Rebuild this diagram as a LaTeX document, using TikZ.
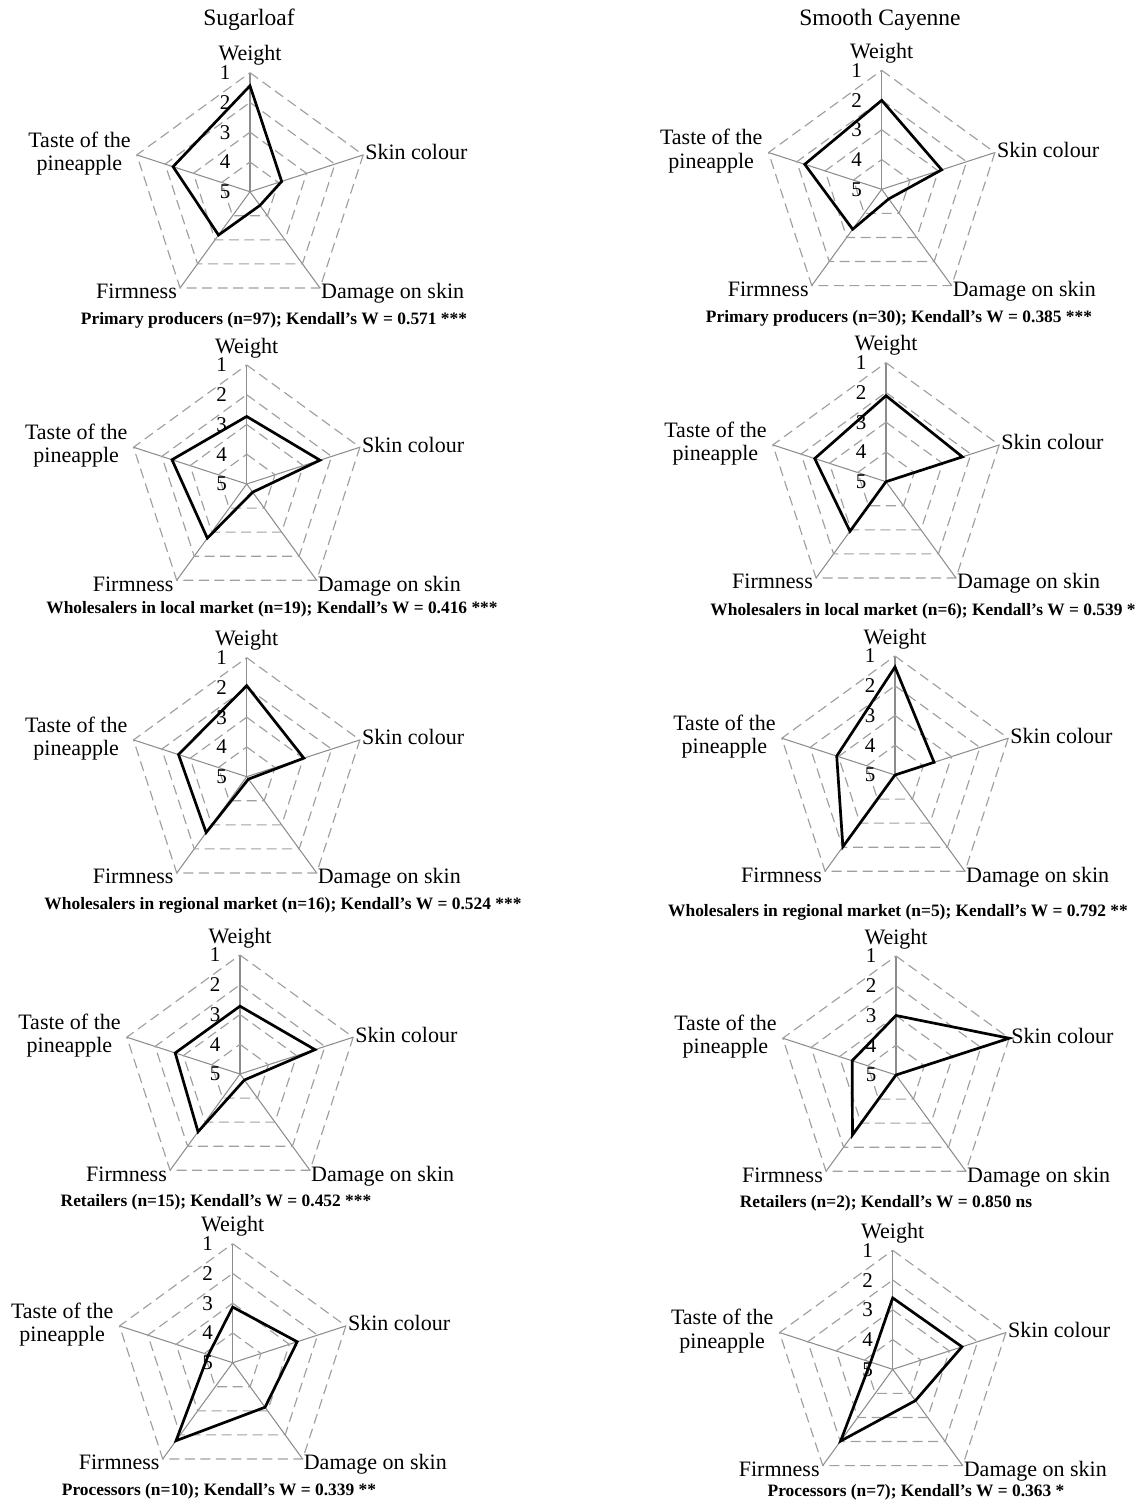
\documentclass[tikz,border=0pt]{standalone}
\usepackage{fontspec}
\setmainfont{Liberation Serif}

\def\spokelen{119}

\tikzset{
	web/.style={draw=gray!75, line width=1.15pt, dash pattern=on 10pt off 5.5pt},
	spoke/.style={draw=gray!90, line width=1.05pt},
	ranks/.style={draw=black, line width=2.7pt, line join=miter},
	axis/.style={font=\fontsize{22}{23.5}\selectfont, inner sep=0pt},
	levelnum/.style={font=\fontsize{21}{21}\selectfont, inner sep=0pt},
	caption/.style={font=\fontsize{17.4}{18}\selectfont\bfseries, inner sep=0pt},
	variety/.style={font=\fontsize{23.5}{25}\selectfont, inner sep=0pt}
}

\newcommand{\radar}[8]{%
	\begin{scope}[shift={(#2,#3)}]
	\foreach \k in {0,...,4}
		\draw[spoke] (0,0) -- (72*\k-90:\spokelen);
	\foreach \lv in {1,...,4}
		\draw[web] (-90:{\lv*\spokelen/4}) -- (-18:{\lv*\spokelen/4}) -- (54:{\lv*\spokelen/4}) -- (126:{\lv*\spokelen/4}) -- (198:{\lv*\spokelen/4}) -- cycle;
	\foreach \lv in {1,...,5}
		\node[levelnum] (#1-l\lv) at (-25,{-(5-\lv)*\spokelen/4}) {\lv};
	\node[axis, anchor=base, yshift=12pt] (#1-w) at (-90:\spokelen) {Weight};
	\node[axis, anchor=base west, xshift=2pt, yshift=-5pt] (#1-s) at (-18:\spokelen) {Skin colour};
	\node[axis, anchor=base west, xshift=1pt, yshift=-11pt] (#1-d) at (54:\spokelen) {Damage on skin};
	\node[axis, anchor=base east, xshift=-3pt, yshift=-11pt] (#1-f) at (126:\spokelen) {Firmness};
	\node[axis, anchor=east, align=center, xshift=-6pt, yshift=1.5pt] (#1-t) at (198:\spokelen) {Taste of the\\pineapple};
	\draw[ranks] (-90:{(5-#4)*\spokelen/4}) -- (-18:{(5-#5)*\spokelen/4}) -- (54:{(5-#6)*\spokelen/4}) -- (126:{(5-#7)*\spokelen/4}) -- (198:{(5-#8)*\spokelen/4}) -- cycle;
	\end{scope}}

\begin{document}
\begin{tikzpicture}[x=1pt,y=-1pt]
	\useasboundingbox (0,0) rectangle (1140,1502);
	\node[variety] (sugarloaf) at (249,20) {Sugarloaf};
	\node[variety] (cayenne) at (880,20) {Smooth Cayenne};

	\radar{slpp}{250}{191.7}{1.44}{3.88}{4.43}{3.2}{2.28}
	\node[caption] (slpp-cap) at (274,320) {Primary producers (n=97); Kendall’s W = 0.571 ***};
	\radar{sllw}{246.7}{484}{2.73}{2.41}{4.66}{2.75}{2.36}
	\node[caption] (sllw-cap) at (272,609) {Wholesalers in local market (n=19); Kendall’s W = 0.416 ***};
	\radar{slrw}{246.7}{776.7}{1.94}{2.98}{4.9}{2.68}{2.59}
	\node[caption] (slrw-cap) at (283,905) {Wholesalers in regional market (n=16); Kendall’s W = 0.524 ***};
	\radar{slre}{240}{1074}{2.72}{2.35}{4.75}{2.6}{2.71}
	\node[caption] (slre-cap) at (216,1202) {Retailers (n=15); Kendall’s W = 0.452 ***};
	\radar{slpr}{232.7}{1362.7}{3.13}{2.72}{3.15}{1.76}{4.14}
	\node[caption] (slpr-cap) at (219,1491) {Processors (n=10); Kendall’s W = 0.339 **};

	\radar{scpp}{881.7}{189.3}{2.01}{2.88}{4.6}{3.34}{2.28}
	\node[caption] (scpp-cap) at (899,318) {Primary producers (n=30); Kendall’s W = 0.385 ***};
	\radar{sclw}{886}{481.7}{2.11}{2.3}{5}{2.94}{2.48}
	\node[caption] (sclw-cap) at (923,611) {Wholesalers in local market (n=6); Kendall’s W = 0.539 *};
	\radar{scrw}{895}{775}{1.37}{3.62}{5}{2.02}{2.94}
	\node[caption] (scrw-cap) at (898,912) {Wholesalers in regional market (n=5); Kendall’s W = 0.792 **};
	\radar{scre}{896}{1075}{3.0}{1.0}{5}{2.51}{3.45}
	\node[caption] (scre-cap) at (886,1203) {Retailers (n=2); Kendall’s W = 0.850 ns};
	\radar{scpr}{892.7}{1369.3}{2.6}{2.55}{3.7}{2.02}{4.22}
	\node[caption] (scpr-cap) at (916,1492) {Processors (n=7); Kendall’s W = 0.363 *};
\end{tikzpicture}
\end{document}
